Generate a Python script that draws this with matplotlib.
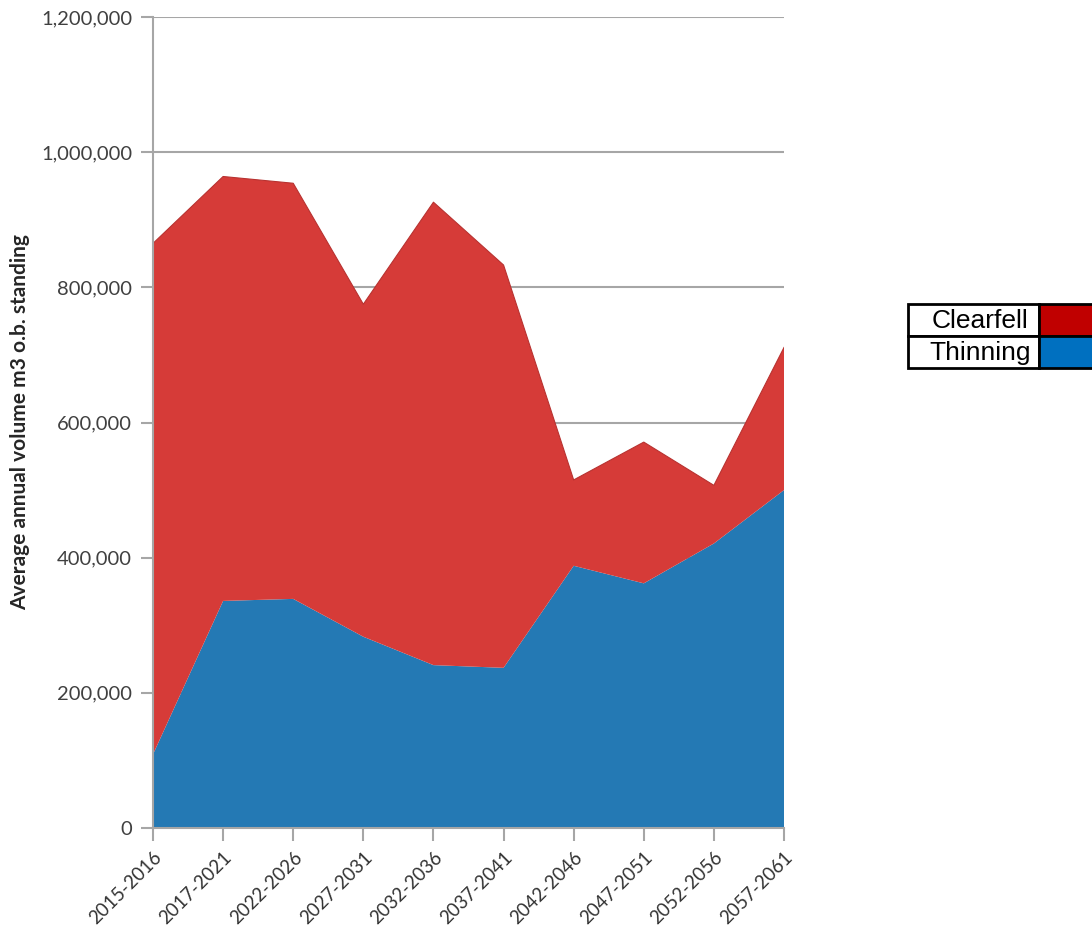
import matplotlib
matplotlib.use("Agg")
import matplotlib.pyplot as plt
from matplotlib.patches import Rectangle
from matplotlib.ticker import FuncFormatter
import numpy as np

periods = ["2015-2016", "2017-2021", "2022-2026", "2027-2031", "2032-2036",
           "2037-2041", "2042-2046", "2047-2051", "2052-2056", "2057-2061"]
thinning = [109000, 336000, 339000, 283000, 241000, 237000, 388000, 362000, 421000, 500000]
total = [865000, 964000, 954000, 775000, 926000, 833000, 515000, 571000, 507000, 711000]
clearfell = [t - th for t, th in zip(total, thinning)]

legend_labels = ["Clearfell", "Thinning"]
legend_colors = ["#C00000", "#0070C0"]

red = "#D63B38"
blue = "#2479B4"
grid_c = "#A6A6A6"
txt_c = "#404040"

fig = plt.figure(figsize=(10.92, 9.33), dpi=100)
ax = fig.add_axes([153/1092, 1 - 828/933, (784-153)/1092, (828-17)/933])

x = np.arange(len(periods))
ax.stackplot(x, thinning, clearfell, colors=[blue, red], linewidth=0)
ax.plot(x, total, color="#B83230", lw=0.8)

ax.set_xlim(0, len(periods) - 1)
ax.set_ylim(0, 1200000)
ax.set_yticks(np.arange(0, 1200001, 200000))
ax.yaxis.set_major_formatter(FuncFormatter(lambda v, p: f"{int(v):,}"))
ax.set_axisbelow(True)
ax.grid(axis="y", color=grid_c, lw=1.5)
for s in ["top", "right"]:
    ax.spines[s].set_visible(False)
for s in ["left", "bottom"]:
    ax.spines[s].set_color(grid_c)
    ax.spines[s].set_linewidth(1.5)
ax.tick_params(axis="both", colors=grid_c, length=9, width=1.5, labelcolor=txt_c)
ax.tick_params(axis="y", labelsize=14.5, pad=6)
ax.tick_params(axis="x", labelsize=13.5, pad=6, labelcolor="#333333")
for lab in ax.get_yticklabels():
    lab.set_family("Lato")
ax.set_xticks(x)
ax.set_xticklabels(periods, rotation=45, ha="right", rotation_mode="anchor", family="Lato")
ax.set_ylabel("Average annual volume m3 o.b. standing", fontsize=15, fontweight="bold",
              family="Lato", color="#262626", labelpad=14)
ax.yaxis.set_label_coords(-123/631, 0.5)

# Legend as table-like boxes
lx0, lx1, lx2 = 908, 1039, 1100
rows = [(304, 336), (336, 368)]
for (y0, y1), lab, col in zip(rows, legend_labels, legend_colors):
    fig.patches.append(Rectangle((lx0/1092, 1 - y1/933), (lx1-lx0)/1092, (y1-y0)/933,
                                 transform=fig.transFigure, facecolor="white",
                                 edgecolor="black", lw=2))
    fig.patches.append(Rectangle((lx1/1092, 1 - y1/933), (lx2-lx1)/1092, (y1-y0)/933,
                                 transform=fig.transFigure, facecolor=col,
                                 edgecolor="black", lw=2))
    fig.text(980/1092, 1 - ((y0+y1)/2 + 1)/933, lab, ha="center", va="center",
             fontsize=19, family="Liberation Sans", color="black")

fig.savefig("out.png", dpi=100)
